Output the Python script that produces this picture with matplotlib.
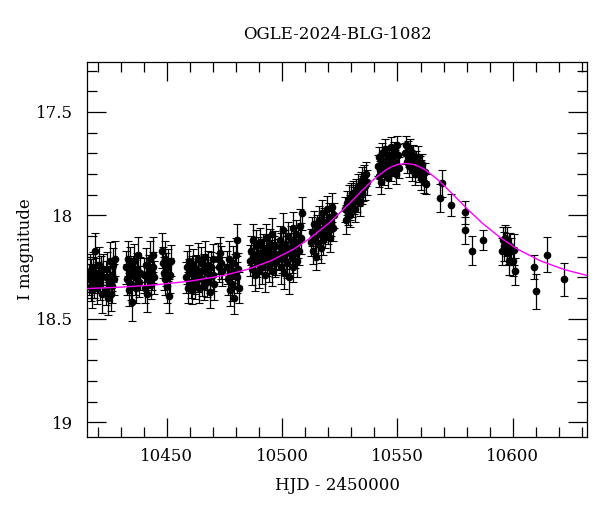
import matplotlib
matplotlib.use("Agg")
import matplotlib.pyplot as plt
from matplotlib.ticker import MultipleLocator, FormatStrFormatter

# OGLE I-band photometry (HJD - 2450000, I mag, error)
hjd = [
    # 10416-10423
    10416.2, 10416.5, 10416.9, 10417.3, 10417.6, 10418.0, 10418.4, 10418.8,
    10419.2, 10419.6, 10420.1, 10420.5, 10421.0, 10421.4, 10421.9, 10422.3,
    # 10423-10428
    10423.4, 10423.8, 10424.1, 10424.5, 10424.9, 10425.3, 10425.6, 10426.0,
    10426.4, 10426.8, 10427.2, 10427.5,
    # 10432-10438
    10432.2, 10432.6, 10433.0, 10433.4, 10433.8, 10434.2, 10434.6, 10435.0,
    10435.4, 10435.8, 10436.2, 10436.6, 10437.0, 10437.4, 10437.8, 10438.2,
    # 10440-10445
    10440.2, 10440.6, 10441.0, 10441.4, 10441.8, 10442.2, 10442.6, 10443.0,
    10443.4, 10443.8, 10444.2, 10444.6,
    # 10448-10452
    10448.0, 10448.3, 10448.7, 10449.0, 10449.4, 10449.8, 10450.2, 10450.6,
    10451.0, 10451.4, 10451.8,
    # 10458-10471
    10458.2, 10458.6, 10459.0, 10459.4, 10459.8, 10460.3, 10460.7, 10461.1,
    10461.5, 10462.0, 10462.4, 10462.8, 10463.3, 10463.7, 10464.1, 10464.6,
    10465.0, 10465.4, 10465.9, 10466.3, 10466.7, 10467.2, 10467.6, 10468.0,
    10468.5, 10468.9, 10469.3, 10469.8, 10470.2, 10470.6,
    # 10472-10474
    10472.1, 10472.6, 10473.0, 10473.5, 10474.0,
    # 10476-10482
    10476.2, 10476.6, 10477.0, 10477.4, 10477.8, 10478.2, 10478.6, 10479.0,
    10479.4, 10479.8, 10480.2, 10480.6, 10481.0, 10481.4,
    # 10486-10498
    10486.2, 10486.6, 10487.0, 10487.4, 10487.8, 10488.2, 10488.6, 10489.0,
    10489.5, 10489.9, 10490.3, 10490.7, 10491.2, 10491.6, 10492.0, 10492.4,
    10492.9, 10493.3, 10493.7, 10494.1, 10494.6, 10495.0, 10495.4, 10495.8,
    10496.3, 10496.7, 10497.1, 10497.5,
    # 10498-10509
    10498.5, 10498.9, 10499.3, 10499.7, 10500.1, 10500.5, 10500.9, 10501.3,
    10501.7, 10502.1, 10502.5, 10502.9, 10503.3, 10503.7, 10504.1, 10504.5,
    10504.9, 10505.3, 10505.7, 10506.1, 10506.5, 10506.9, 10507.3, 10507.7,
    10508.1, 10508.7,
    # 10512-10523
    10512.7, 10513.1, 10513.5, 10513.9, 10514.3, 10514.7, 10515.1, 10515.5,
    10515.9, 10516.3, 10516.7, 10517.1, 10517.5, 10517.9, 10518.3, 10518.7,
    10519.1, 10519.5, 10519.9, 10520.3, 10520.7, 10521.1, 10521.5, 10521.9,
    10522.4,
    # 10527-10537
    10527.2, 10527.6, 10528.0, 10528.4, 10528.8, 10529.2, 10529.6, 10530.0,
    10530.4, 10530.8, 10531.2, 10531.6, 10532.0, 10532.4, 10532.8, 10533.2,
    10533.6, 10534.0, 10534.4, 10534.8, 10535.2, 10535.6, 10536.0, 10536.4,
    10536.8,
    # 10541-10551
    10541.4, 10541.8, 10542.2, 10542.6, 10543.0, 10543.4, 10543.8, 10544.2,
    10544.6, 10545.0, 10545.4, 10545.8, 10546.2, 10546.6, 10547.0, 10547.4,
    10547.8, 10548.2, 10548.6, 10549.0, 10549.4, 10549.8, 10550.2, 10550.6,
    # 10553-10563
    10553.2, 10553.6, 10554.0, 10554.4, 10554.8, 10555.2, 10555.6, 10556.0,
    10556.4, 10556.8, 10557.2, 10557.6, 10558.0, 10558.4, 10558.8, 10559.2,
    10559.6, 10560.0, 10560.4, 10560.8, 10561.2, 10561.6, 10562.0, 10562.5,
    # decline
    10568.3, 10569.2, 10573.2, 10579.3, 10579.3, 10582.3, 10587.2,
    10595.3, 10595.6, 10596.3, 10596.7, 10597.3, 10597.7, 10598.2, 10598.5,
    10598.8, 10599.2, 10599.9, 10600.7, 10601.1,
    10609.0, 10610.0, 10615.0, 10622.0,
]

imag = [
    18.31, 18.27, 18.34, 18.29, 18.36, 18.25, 18.32, 18.17,
    18.28, 18.35, 18.30, 18.24, 18.33, 18.27, 18.38, 18.26,
    18.30, 18.36, 18.26, 18.40, 18.32, 18.22, 18.38, 18.29,
    18.34, 18.24, 18.31, 18.21,
    18.25, 18.31, 18.21, 18.36, 18.28, 18.24, 18.33, 18.42,
    18.27, 18.22, 18.30, 18.35, 18.26, 18.19, 18.32, 18.28,
    18.29, 18.35, 18.24, 18.38, 18.31, 18.27, 18.21, 18.33,
    18.28, 18.19, 18.25, 18.30,
    18.17, 18.23, 18.28, 18.21, 18.31, 18.26, 18.34, 18.24,
    18.39, 18.29, 18.22,
    18.30, 18.25, 18.35, 18.28, 18.22, 18.32, 18.27, 18.36,
    18.24, 18.30, 18.33, 18.26, 18.21, 18.29, 18.35, 18.27,
    18.23, 18.31, 18.26, 18.34, 18.20, 18.28, 18.32, 18.24,
    18.30, 18.37, 18.25, 18.21, 18.29, 18.33,
    18.21, 18.25, 18.18, 18.23, 18.27,
    18.25, 18.31, 18.21, 18.36, 18.28, 18.33, 18.23, 18.40,
    18.27, 18.19, 18.30, 18.12, 18.26, 18.35,
    18.22, 18.17, 18.26, 18.12, 18.20, 18.29, 18.15, 18.23,
    18.18, 18.27, 18.13, 18.21, 18.25, 18.16, 18.19, 18.29,
    18.11, 18.22, 18.17, 18.25, 18.14, 18.20, 18.27, 18.09,
    18.18, 18.23, 18.15, 18.21,
    18.19, 18.12, 18.25, 18.16, 18.21, 18.07, 18.28, 18.14,
    18.18, 18.23, 18.10, 18.30, 18.16, 18.12, 18.20, 18.06,
    18.25, 18.14, 18.18, 18.09, 18.22, 18.13, 18.17, 18.05,
    18.11, 17.99,
    18.13, 18.08, 18.17, 18.04, 18.11, 18.20, 18.06, 18.14,
    18.02, 18.09, 18.16, 17.99, 18.07, 18.12, 18.03, 18.10,
    18.05, 17.97, 18.08, 18.01, 18.11, 18.04, 17.96, 18.06,
    18.00,
    17.97, 18.02, 17.94, 17.99, 17.92, 17.96, 18.00, 17.91,
    17.95, 17.89, 17.93, 17.97, 17.88, 17.92, 17.86, 17.90,
    17.94, 17.85, 17.89, 17.83, 17.87, 17.81, 17.86, 17.80,
    17.84,
    17.76, 17.81, 17.72, 17.78, 17.84, 17.70, 17.75, 17.80,
    17.68, 17.73, 17.77, 17.82, 17.71, 17.75, 17.67, 17.79,
    17.72, 17.76, 17.69, 17.74, 17.80, 17.66, 17.71, 17.77,
    17.70, 17.66, 17.74, 17.69, 17.72, 17.76, 17.68, 17.73,
    17.78, 17.71, 17.75, 17.80, 17.74, 17.77, 17.72, 17.79,
    17.76, 17.82, 17.78, 17.75, 17.80, 17.84, 17.79, 17.85,
    17.915, 17.845, 17.95, 17.985, 18.073, 18.17, 18.12,
    18.174, 18.118, 18.150, 18.110, 18.182, 18.126, 18.222, 18.158,
    18.147, 18.174, 18.222, 18.166, 18.271,
    18.25, 18.368, 18.19, 18.31,
]

ierr = [
    0.075, 0.085, 0.075, 0.080, 0.090, 0.075, 0.080, 0.085,
    0.075, 0.080, 0.075, 0.085, 0.080, 0.075, 0.090, 0.075,
    0.080, 0.075, 0.085, 0.080, 0.075, 0.090, 0.080, 0.075,
    0.085, 0.080, 0.075, 0.085,
    0.080, 0.075, 0.085, 0.080, 0.075, 0.085, 0.080, 0.092,
    0.075, 0.080, 0.085, 0.075, 0.080, 0.085, 0.075, 0.080,
    0.085, 0.075, 0.080, 0.085, 0.075, 0.080, 0.085, 0.075,
    0.080, 0.085, 0.075, 0.080,
    0.085, 0.075, 0.080, 0.085, 0.075, 0.080, 0.085, 0.075,
    0.080, 0.085, 0.075,
    0.075, 0.080, 0.075, 0.070, 0.075, 0.080, 0.075, 0.070,
    0.075, 0.080, 0.075, 0.070, 0.075, 0.080, 0.075, 0.070,
    0.075, 0.080, 0.075, 0.070, 0.075, 0.080, 0.075, 0.070,
    0.075, 0.080, 0.075, 0.070, 0.075, 0.080,
    0.075, 0.070, 0.075, 0.080, 0.070,
    0.080, 0.075, 0.085, 0.080, 0.075, 0.085, 0.080, 0.075,
    0.085, 0.080, 0.075, 0.078, 0.080, 0.075,
    0.075, 0.070, 0.075, 0.080, 0.070, 0.075, 0.080, 0.070,
    0.075, 0.080, 0.070, 0.075, 0.080, 0.070, 0.075, 0.080,
    0.070, 0.075, 0.080, 0.070, 0.075, 0.080, 0.070, 0.075,
    0.080, 0.070, 0.075, 0.080,
    0.075, 0.070, 0.080, 0.075, 0.070, 0.080, 0.075, 0.070,
    0.080, 0.075, 0.070, 0.080, 0.075, 0.070, 0.080, 0.075,
    0.070, 0.080, 0.075, 0.070, 0.080, 0.075, 0.070, 0.080,
    0.075, 0.080,
    0.065, 0.070, 0.065, 0.060, 0.070, 0.065, 0.060, 0.070,
    0.065, 0.060, 0.070, 0.065, 0.060, 0.070, 0.065, 0.060,
    0.070, 0.065, 0.060, 0.070, 0.065, 0.060, 0.070, 0.065,
    0.060,
    0.060, 0.068, 0.060, 0.055, 0.065, 0.060, 0.055, 0.065,
    0.060, 0.055, 0.065, 0.060, 0.055, 0.065, 0.060, 0.055,
    0.065, 0.060, 0.055, 0.065, 0.060, 0.055, 0.065, 0.060,
    0.060,
    0.050, 0.055, 0.050, 0.045, 0.055, 0.050, 0.045, 0.055,
    0.050, 0.045, 0.055, 0.050, 0.045, 0.055, 0.050, 0.045,
    0.055, 0.050, 0.045, 0.055, 0.050, 0.045, 0.055, 0.050,
    0.050, 0.045, 0.055, 0.050, 0.045, 0.055, 0.050, 0.045,
    0.055, 0.050, 0.045, 0.055, 0.050, 0.045, 0.055, 0.050,
    0.045, 0.055, 0.050, 0.045, 0.055, 0.050, 0.045, 0.048,
    0.068, 0.065, 0.052, 0.055, 0.065, 0.068, 0.048,
    0.065, 0.060, 0.070, 0.065, 0.060, 0.070, 0.065, 0.075,
    0.060, 0.065, 0.070, 0.075, 0.065,
    0.060, 0.083, 0.085, 0.080,
]

# microlensing model curve, sampled off the chart
model_day = [10415, 10430, 10445, 10460, 10475, 10485, 10495, 10505, 10512,
             10520, 10527, 10530.5, 10534, 10537, 10540, 10545, 10547.5, 10550,
             10553.5, 10557, 10559.5, 10562, 10567, 10570, 10573, 10576.5,
             10580, 10587, 10595, 10602, 10612, 10622, 10633]
model_mag = [18.354, 18.347, 18.336, 18.318, 18.290, 18.261, 18.220, 18.163, 18.111,
             18.040, 17.966, 17.927, 17.887, 17.854, 17.823, 17.780, 17.765, 17.754,
             17.749, 17.754, 17.765, 17.780, 17.823, 17.854, 17.887, 17.927,
             17.966, 18.040, 18.111, 18.163, 18.220, 18.261, 18.293]

plt.rcParams['font.family'] = ['DejaVu Serif']
plt.rcParams['mathtext.fontset'] = 'dejavuserif'

fig = plt.figure(figsize=(6, 5.12), dpi=100)
ax = fig.add_axes([0.1455, 0.1471, 0.8333, 0.7312])

ax.errorbar(hjd, imag, yerr=ierr, fmt='o', color='black', ms=4.5,
            elinewidth=0.9, capsize=2.6, capthick=0.8, zorder=2)
ax.plot(model_day, model_mag, color='#ff00ff', lw=1.0, zorder=3)

ax.set_xlim(10415.5, 10632.3)
ax.set_ylim(19.07, 17.26)

ax.xaxis.set_major_locator(MultipleLocator(50))
ax.xaxis.set_minor_locator(MultipleLocator(10))
ax.yaxis.set_major_locator(MultipleLocator(0.5))
ax.yaxis.set_minor_locator(MultipleLocator(0.1))
ax.yaxis.set_major_formatter(FormatStrFormatter('%g'))

ax.tick_params(which='both', direction='in', top=True, right=True, width=0.9,
               labelsize=12)
ax.tick_params(which='major', length=13.5)
ax.tick_params(which='minor', length=7)
ax.tick_params(axis='x', pad=8)
ax.tick_params(axis='y', pad=10)
for s in ax.spines.values():
    s.set_linewidth(0.9)

ax.set_xlabel('HJD - 2450000', fontsize=12, labelpad=9)
ax.set_ylabel('I magnitude', fontsize=12, labelpad=2)
ax.set_title('OGLE-2024-BLG-1082', fontsize=12, pad=17)

fig.savefig('out.png', dpi=100)
